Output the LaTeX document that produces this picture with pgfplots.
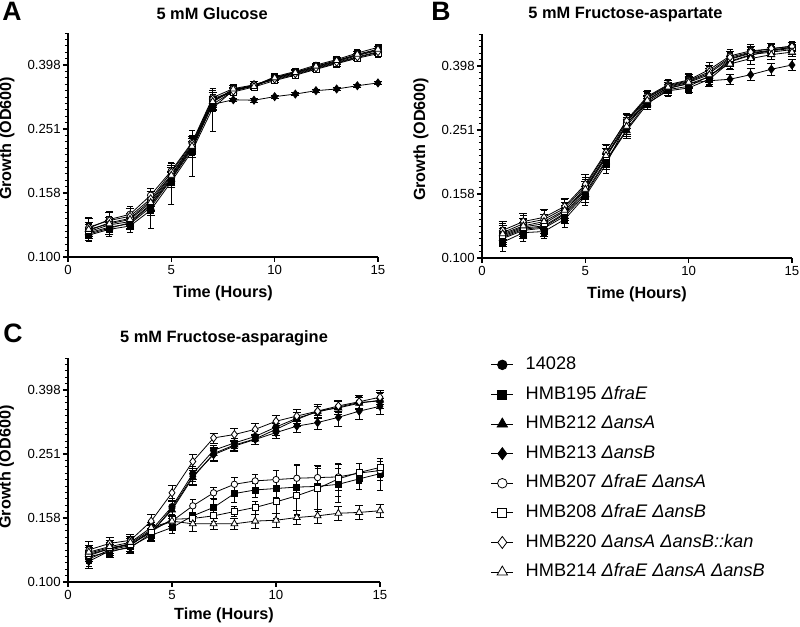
\documentclass[border=0pt]{standalone}
\usepackage{fontspec}
\setmainfont{Liberation Sans}
\usepackage{pgfplots}
\usepackage{pgfplotstable}
\pgfplotsset{compat=1.18}

% Panel A: 5 mM Glucose
\pgfplotstableread{
t a1 a2 a3 a4 a5 a6 a7 a8 e1 e2 e3 e4 e5 e6 e7 e8
1 0.120 0.117 0.119 0.118 0.123 0.121 0.124 0.122 0.006 0.005 0.005 0.004 0.010 0.006 0.008 0.006
2 0.126 0.122 0.124 0.123 0.131 0.128 0.130 0.127 0.006 0.006 0.006 0.005 0.008 0.006 0.008 0.006
3 0.129 0.125 0.127 0.128 0.136 0.132 0.134 0.131 0.006 0.006 0.005 0.005 0.008 0.006 0.008 0.006
4 0.146 0.140 0.143 0.145 0.156 0.150 0.152 0.148 0.008 0.017 0.008 0.006 0.008 0.008 0.008 0.008
5 0.178 0.172 0.175 0.176 0.186 0.181 0.184 0.180 0.010 0.026 0.010 0.008 0.010 0.010 0.010 0.010
6 0.220 0.214 0.217 0.220 0.228 0.224 0.226 0.222 0.012 0.035 0.012 0.010 0.012 0.012 0.012 0.012
7 0.305 0.292 0.300 0.300 0.315 0.310 0.312 0.306 0.012 0.045 0.012 0.010 0.016 0.012 0.014 0.012
8 0.333 0.332 0.330 0.310 0.336 0.328 0.330 0.335 0.008 0.006 0.006 0.004 0.010 0.008 0.008 0.008
9 0.344 0.342 0.343 0.309 0.345 0.340 0.346 0.341 0.008 0.008 0.006 0.004 0.008 0.006 0.008 0.006
10 0.364 0.366 0.362 0.317 0.358 0.356 0.360 0.363 0.008 0.006 0.006 0.004 0.008 0.006 0.008 0.006
11 0.378 0.380 0.376 0.323 0.372 0.370 0.374 0.377 0.008 0.006 0.006 0.004 0.008 0.006 0.008 0.008
12 0.394 0.398 0.392 0.331 0.388 0.386 0.390 0.395 0.010 0.008 0.006 0.004 0.010 0.008 0.010 0.008
13 0.410 0.414 0.408 0.335 0.404 0.402 0.406 0.411 0.010 0.010 0.008 0.004 0.012 0.010 0.012 0.010
14 0.428 0.434 0.426 0.343 0.420 0.418 0.422 0.430 0.010 0.012 0.008 0.004 0.012 0.010 0.010 0.010
15 0.444 0.452 0.442 0.350 0.436 0.432 0.438 0.446 0.010 0.010 0.008 0.004 0.012 0.010 0.012 0.010
}\tabA

% Panel B: 5 mM Fructose-aspartate
\pgfplotstableread{
t a1 a2 a3 a4 a5 a6 a7 a8 e1 e2 e3 e4 e5 e6 e7 e8
1 0.117 0.112 0.115 0.116 0.120 0.118 0.122 0.119 0.007 0.007 0.006 0.006 0.008 0.007 0.008 0.007
2 0.124 0.120 0.122 0.123 0.128 0.125 0.130 0.126 0.008 0.007 0.007 0.006 0.008 0.007 0.008 0.007
3 0.126 0.121 0.124 0.125 0.132 0.128 0.134 0.130 0.008 0.006 0.007 0.006 0.009 0.007 0.008 0.007
4 0.138 0.132 0.135 0.137 0.143 0.140 0.145 0.141 0.008 0.007 0.007 0.006 0.009 0.008 0.009 0.008
5 0.163 0.156 0.158 0.160 0.168 0.166 0.170 0.164 0.010 0.010 0.009 0.008 0.010 0.010 0.012 0.009
6 0.206 0.196 0.200 0.202 0.212 0.208 0.214 0.209 0.012 0.012 0.011 0.010 0.013 0.012 0.012 0.011
7 0.262 0.264 0.250 0.252 0.270 0.266 0.268 0.258 0.014 0.016 0.014 0.012 0.013 0.014 0.013 0.014
8 0.313 0.305 0.303 0.308 0.320 0.316 0.318 0.311 0.013 0.014 0.012 0.012 0.014 0.013 0.014 0.012
9 0.340 0.333 0.336 0.338 0.348 0.344 0.346 0.342 0.014 0.014 0.013 0.012 0.014 0.014 0.014 0.013
10 0.350 0.340 0.344 0.352 0.360 0.356 0.358 0.354 0.016 0.014 0.015 0.014 0.018 0.016 0.016 0.015
11 0.368 0.362 0.370 0.358 0.388 0.378 0.382 0.374 0.018 0.016 0.016 0.015 0.020 0.018 0.018 0.016
12 0.418 0.410 0.412 0.362 0.428 0.420 0.424 0.404 0.018 0.020 0.016 0.014 0.020 0.018 0.018 0.016
13 0.436 0.430 0.432 0.374 0.444 0.438 0.440 0.420 0.018 0.016 0.016 0.016 0.020 0.018 0.018 0.018
14 0.444 0.446 0.440 0.389 0.450 0.446 0.452 0.432 0.016 0.016 0.014 0.018 0.016 0.016 0.016 0.016
15 0.452 0.456 0.448 0.401 0.460 0.455 0.458 0.440 0.014 0.014 0.014 0.016 0.014 0.014 0.014 0.014
}\tabB

% Panel C: 5 mM Fructose-asparagine
\pgfplotstableread{
t a1 a2 a3 a4 a5 a6 a7 a8 e1 e2 e3 e4 e5 e6 e7 e8
1 0.118 0.120 0.122 0.116 0.121 0.123 0.126 0.124 0.006 0.006 0.006 0.006 0.006 0.006 0.008 0.006
2 0.126 0.124 0.127 0.125 0.127 0.128 0.132 0.129 0.006 0.005 0.006 0.006 0.006 0.006 0.006 0.006
3 0.130 0.129 0.131 0.128 0.132 0.131 0.135 0.133 0.006 0.005 0.006 0.005 0.006 0.006 0.006 0.006
4 0.145 0.140 0.143 0.142 0.146 0.144 0.155 0.148 0.008 0.006 0.008 0.008 0.008 0.008 0.008 0.006
5 0.172 0.148 0.168 0.170 0.155 0.157 0.190 0.155 0.010 0.006 0.010 0.010 0.008 0.006 0.010 0.006
6 0.218 0.161 0.212 0.214 0.173 0.158 0.238 0.152 0.012 0.010 0.012 0.012 0.008 0.006 0.012 0.008
7 0.258 0.171 0.252 0.250 0.190 0.161 0.282 0.152 0.010 0.010 0.012 0.012 0.008 0.006 0.010 0.006
8 0.272 0.189 0.268 0.266 0.202 0.166 0.289 0.152 0.010 0.012 0.010 0.010 0.010 0.006 0.012 0.006
9 0.285 0.194 0.280 0.279 0.207 0.171 0.300 0.155 0.010 0.010 0.010 0.010 0.010 0.008 0.012 0.008
10 0.305 0.196 0.300 0.293 0.209 0.178 0.318 0.156 0.012 0.012 0.012 0.012 0.015 0.020 0.014 0.008
11 0.325 0.198 0.322 0.307 0.211 0.186 0.330 0.159 0.014 0.035 0.016 0.014 0.020 0.025 0.016 0.008
12 0.340 0.199 0.342 0.315 0.212 0.196 0.342 0.161 0.014 0.030 0.018 0.016 0.020 0.030 0.016 0.008
13 0.352 0.202 0.350 0.327 0.213 0.210 0.355 0.164 0.014 0.025 0.016 0.020 0.020 0.025 0.014 0.008
14 0.364 0.210 0.362 0.342 0.219 0.220 0.366 0.165 0.016 0.015 0.016 0.020 0.015 0.015 0.016 0.008
15 0.368 0.218 0.370 0.354 0.223 0.228 0.378 0.167 0.020 0.025 0.020 0.020 0.015 0.015 0.018 0.008
}\tabC

\begin{document}
\begin{tikzpicture}
\useasboundingbox (0pt,0pt) rectangle (400pt,-313.5pt);

% Panel A
\begin{axis}[
    at={(34pt,-128.5pt)}, anchor=south west,
    scale only axis, width=155pt, height=112pt,
    ymode=log, ymin=0.1, ymax=0.501187, xmin=0, xmax=15,
    clip=false,
    xtick={0,5,10,15}, xticklabels={0,5,10,15},
    ytick={0.1,0.158489,0.251189,0.398107},
    yticklabels={0.100,0.158,0.251,0.398},
    minor ytick={0.104713,0.109648,0.114815,0.120226,0.125893,0.131826,0.138038,0.144544,0.151356,0.165959,0.173780,0.181970,0.190546,0.199526,0.208930,0.218776,0.229087,0.239883,0.263027,0.275423,0.288403,0.301995,0.316228,0.331131,0.346737,0.363078,0.380189,0.416869,0.436516,0.457088,0.478630,0.501187},
    axis x line*=bottom, axis y line*=left,
    axis line style={line width=0.9pt, black},
    tick align=outside,
    major tick length=2.5pt, minor tick length=1.5pt,
    tick style={black, line width=0.6pt},
    minor tick style={black, line width=0.4pt},
    ticklabel style={font=\fontsize{6.6}{7}\selectfont},
    yticklabel style={inner sep=1pt},
    xticklabel style={inner sep=1.5pt},
    xlabel={Time (Hours)}, ylabel={Growth (OD600)},
    label style={font=\bfseries\fontsize{8.1}{9}\selectfont},
    xlabel style={at={(axis description cs:0.5,-0.16)}, anchor=center},
    ylabel style={at={(axis description cs:-0.197,0.53)}, anchor=center},
    title={5 mM Glucose},
    title style={font=\bfseries\fontsize{8.2}{9}\selectfont, anchor=center, at={(0.465,1.035)}},
  ]
  \addplot[black, solid, line width=0.4pt, mark size=1.6pt, mark=*, mark options={fill=black}, error bars/.cd, y dir=both, y explicit] table[x=t, y=a1, y error=e1]{\tabA};
  \addplot[black, solid, line width=0.4pt, mark=square*, mark size=1.5pt, mark options={fill=black}, error bars/.cd, y dir=both, y explicit] table[x=t, y=a2, y error=e2]{\tabA};
  \addplot[black, solid, line width=0.4pt, mark=triangle*, mark size=2pt, mark options={fill=black}, error bars/.cd, y dir=both, y explicit] table[x=t, y=a3, y error=e3]{\tabA};
  \addplot[black, solid, line width=0.4pt, mark=diamond*, mark size=2pt, mark options={fill=black}, error bars/.cd, y dir=both, y explicit] table[x=t, y=a4, y error=e4]{\tabA};
  \addplot[black, solid, line width=0.4pt, mark size=1.6pt, mark=*, mark options={fill=white}, error bars/.cd, y dir=both, y explicit] table[x=t, y=a5, y error=e5]{\tabA};
  \addplot[black, solid, line width=0.4pt, mark=square*, mark size=1.5pt, mark options={fill=white}, error bars/.cd, y dir=both, y explicit] table[x=t, y=a6, y error=e6]{\tabA};
  \addplot[black, solid, line width=0.4pt, mark=diamond*, mark size=2pt, mark options={fill=white}, error bars/.cd, y dir=both, y explicit] table[x=t, y=a7, y error=e7]{\tabA};
  \addplot[black, solid, line width=0.4pt, mark=triangle*, mark size=2pt, mark options={fill=white}, error bars/.cd, y dir=both, y explicit] table[x=t, y=a8, y error=e8]{\tabA};
\end{axis}

% Panel B
\begin{axis}[
    at={(241pt,-129pt)}, anchor=south west,
    scale only axis, width=155pt, height=112pt,
    ymode=log, ymin=0.1, ymax=0.501187, xmin=0, xmax=15,
    clip=false,
    xtick={0,5,10,15}, xticklabels={0,5,10,15},
    ytick={0.1,0.158489,0.251189,0.398107},
    yticklabels={0.100,0.158,0.251,0.398},
    minor ytick={0.104713,0.109648,0.114815,0.120226,0.125893,0.131826,0.138038,0.144544,0.151356,0.165959,0.173780,0.181970,0.190546,0.199526,0.208930,0.218776,0.229087,0.239883,0.263027,0.275423,0.288403,0.301995,0.316228,0.331131,0.346737,0.363078,0.380189,0.416869,0.436516,0.457088,0.478630,0.501187},
    axis x line*=bottom, axis y line*=left,
    axis line style={line width=0.9pt, black},
    tick align=outside,
    major tick length=2.5pt, minor tick length=1.5pt,
    tick style={black, line width=0.6pt},
    minor tick style={black, line width=0.4pt},
    ticklabel style={font=\fontsize{6.6}{7}\selectfont},
    yticklabel style={inner sep=1pt},
    xticklabel style={inner sep=1.5pt},
    xlabel={Time (Hours)}, ylabel={Growth (OD600)},
    label style={font=\bfseries\fontsize{8.1}{9}\selectfont},
    xlabel style={at={(axis description cs:0.5,-0.16)}, anchor=center},
    ylabel style={at={(axis description cs:-0.197,0.53)}, anchor=center},
    title={5 mM Fructose-aspartate},
    title style={font=\bfseries\fontsize{8.2}{9}\selectfont, anchor=center, at={(0.463,1.035)}},
  ]
  \addplot[black, solid, line width=0.4pt, mark size=1.6pt, mark=*, mark options={fill=black}, error bars/.cd, y dir=both, y explicit] table[x=t, y=a1, y error=e1]{\tabB};
  \addplot[black, solid, line width=0.4pt, mark=square*, mark size=1.5pt, mark options={fill=black}, error bars/.cd, y dir=both, y explicit] table[x=t, y=a2, y error=e2]{\tabB};
  \addplot[black, solid, line width=0.4pt, mark=triangle*, mark size=2pt, mark options={fill=black}, error bars/.cd, y dir=both, y explicit] table[x=t, y=a3, y error=e3]{\tabB};
  \addplot[black, solid, line width=0.4pt, mark=diamond*, mark size=2pt, mark options={fill=black}, error bars/.cd, y dir=both, y explicit] table[x=t, y=a4, y error=e4]{\tabB};
  \addplot[black, solid, line width=0.4pt, mark size=1.6pt, mark=*, mark options={fill=white}, error bars/.cd, y dir=both, y explicit] table[x=t, y=a5, y error=e5]{\tabB};
  \addplot[black, solid, line width=0.4pt, mark=square*, mark size=1.5pt, mark options={fill=white}, error bars/.cd, y dir=both, y explicit] table[x=t, y=a6, y error=e6]{\tabB};
  \addplot[black, solid, line width=0.4pt, mark=diamond*, mark size=2pt, mark options={fill=white}, error bars/.cd, y dir=both, y explicit] table[x=t, y=a7, y error=e7]{\tabB};
  \addplot[black, solid, line width=0.4pt, mark=triangle*, mark size=2pt, mark options={fill=white}, error bars/.cd, y dir=both, y explicit] table[x=t, y=a8, y error=e8]{\tabB};
\end{axis}

% Panel C
\begin{axis}[
    at={(34pt,-291pt)}, anchor=south west,
    scale only axis, width=156pt, height=112pt,
    ymode=log, ymin=0.1, ymax=0.501187, xmin=0, xmax=15,
    clip=false,
    xtick={0,5,10,15}, xticklabels={0,5,10,15},
    ytick={0.1,0.158489,0.251189,0.398107},
    yticklabels={0.100,0.158,0.251,0.398},
    minor ytick={0.104713,0.109648,0.114815,0.120226,0.125893,0.131826,0.138038,0.144544,0.151356,0.165959,0.173780,0.181970,0.190546,0.199526,0.208930,0.218776,0.229087,0.239883,0.263027,0.275423,0.288403,0.301995,0.316228,0.331131,0.346737,0.363078,0.380189,0.416869,0.436516,0.457088,0.478630,0.501187},
    axis x line*=bottom, axis y line*=left,
    axis line style={line width=0.9pt, black},
    tick align=outside,
    major tick length=2.5pt, minor tick length=1.5pt,
    tick style={black, line width=0.6pt},
    minor tick style={black, line width=0.4pt},
    ticklabel style={font=\fontsize{6.6}{7}\selectfont},
    yticklabel style={inner sep=1pt},
    xticklabel style={inner sep=1.5pt},
    xlabel={Time (Hours)}, ylabel={Growth (OD600)},
    label style={font=\bfseries\fontsize{8.1}{9}\selectfont},
    xlabel style={at={(axis description cs:0.5,-0.147)}, anchor=center},
    ylabel style={at={(axis description cs:-0.197,0.513)}, anchor=center},
    title={5 mM Fructose-asparagine},
    title style={font=\bfseries\fontsize{8.2}{9}\selectfont, anchor=center, at={(0.5,1.035)}},
    legend cell align=left,
    legend style={at={(1.335,1.027)}, anchor=north west, draw=none, fill=none,
      font=\fontsize{9.1}{10}\selectfont, row sep=6.3pt, column sep=6pt,
      nodes={inner sep=0pt, text height=6.6pt, text depth=1.9pt}},
    legend image code/.code={\draw[mark repeat=2, mark phase=2, #1, every mark/.append style={scale=1.5}] plot coordinates {(0pt,0pt) (5.5pt,0pt) (11pt,0pt)};},
  ]
  \addplot[black, solid, line width=0.4pt, mark size=1.6pt, mark=*, mark options={fill=black}, error bars/.cd, y dir=both, y explicit] table[x=t, y=a1, y error=e1]{\tabC};
  \addplot[black, solid, line width=0.4pt, mark=square*, mark size=1.5pt, mark options={fill=black}, error bars/.cd, y dir=both, y explicit] table[x=t, y=a2, y error=e2]{\tabC};
  \addplot[black, solid, line width=0.4pt, mark=triangle*, mark size=2pt, mark options={fill=black}, error bars/.cd, y dir=both, y explicit] table[x=t, y=a3, y error=e3]{\tabC};
  \addplot[black, solid, line width=0.4pt, mark=diamond*, mark size=2pt, mark options={fill=black}, error bars/.cd, y dir=both, y explicit] table[x=t, y=a4, y error=e4]{\tabC};
  \addplot[black, solid, line width=0.4pt, mark size=1.6pt, mark=*, mark options={fill=white}, error bars/.cd, y dir=both, y explicit] table[x=t, y=a5, y error=e5]{\tabC};
  \addplot[black, solid, line width=0.4pt, mark=square*, mark size=1.5pt, mark options={fill=white}, error bars/.cd, y dir=both, y explicit] table[x=t, y=a6, y error=e6]{\tabC};
  \addplot[black, solid, line width=0.4pt, mark=diamond*, mark size=2pt, mark options={fill=white}, error bars/.cd, y dir=both, y explicit] table[x=t, y=a7, y error=e7]{\tabC};
  \addplot[black, solid, line width=0.4pt, mark=triangle*, mark size=2pt, mark options={fill=white}, error bars/.cd, y dir=both, y explicit] table[x=t, y=a8, y error=e8]{\tabC};
  \legend{14028,
    HMB195 \textit{ΔfraE},
    HMB212 \textit{ΔansA},
    HMB213 \textit{ΔansB},
    HMB207 \textit{ΔfraE} \textit{ΔansA},
    HMB208 \textit{ΔfraE} \textit{ΔansB},
    HMB220 \textit{ΔansA} \textit{ΔansB::kan},
    HMB214 \textit{ΔfraE} \textit{ΔansA} \textit{ΔansB}}
\end{axis}

\node[font=\bfseries\fontsize{13.3}{14}\selectfont] at (6pt,-5.5pt) {A};
\node[font=\bfseries\fontsize{13.3}{14}\selectfont] at (220.5pt,-5.5pt) {B};
\node[font=\bfseries\fontsize{13.3}{14}\selectfont] at (6.5pt,-166.5pt) {C};
\end{tikzpicture}
\end{document}
